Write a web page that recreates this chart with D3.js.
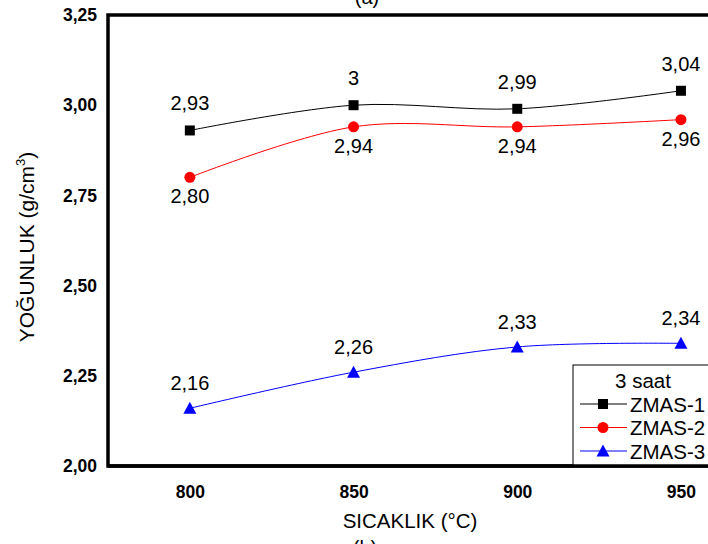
<!DOCTYPE html>
<html><head><meta charset="utf-8">
<script src="https://cdn.jsdelivr.net/npm/d3@7"></script>
<style>body{margin:0;background:#fff}svg{display:block;font-family:"Liberation Sans",Arial,sans-serif}</style>
</head><body><svg id="c" width="708" height="544"></svg>
<script>
const categories = [800, 850, 900, 950];
const zmas1 = [2.93, 3.00, 2.99, 3.04];
const zmas2 = [2.80, 2.94, 2.94, 2.96];
const zmas3 = [2.16, 2.26, 2.33, 2.34];
const labels1 = ["2,93", "3", "2,99", "3,04"];
const labels2 = ["2,80", "2,94", "2,94", "2,96"];
const labels3 = ["2,16", "2,26", "2,33", "2,34"];
const yTicks = [2.00, 2.25, 2.50, 2.75, 3.00, 3.25];
const seriesNames = ["ZMAS-1", "ZMAS-2", "ZMAS-3"];

const svg = d3.select("#c");
const L = 108, T = 15, B = 466;
const x = d3.scaleLinear().domain([775, 975]).range([L, L + 4 * 163.7]);
const y = d3.scaleLinear().domain([2.0, 3.25]).range([B, T]);

// (a) and (b) partial captions
svg.append("text").attr("x", 367).attr("y", 4).attr("text-anchor", "middle").attr("font-size", 20).text("(a)");
svg.append("text").attr("x", 365).attr("y", 555).attr("text-anchor", "middle").attr("font-size", 20).text("(b)");

// frame
svg.append("rect").attr("x", L).attr("y", T).attr("width", x(975) - L).attr("height", B - T)
  .attr("fill", "none").attr("stroke", "#000").attr("stroke-width", 3.5);

// y axis tick labels
const yAxis = d3.axisLeft(y).tickValues(yTicks).tickSize(0).tickPadding(11)
  .tickFormat(d => d3.format(".2f")(d).replace(".", ","));
const ga = svg.append("g").attr("transform", `translate(${L},0)`).call(yAxis);
ga.select(".domain").remove();
ga.selectAll("text").attr("font-size", 17.5).attr("font-weight", "bold").attr("fill", "#000")
  .attr("font-family", '"Liberation Sans",Arial,sans-serif');

const xAxis = d3.axisBottom(x).tickValues(categories).tickSize(0).tickPadding(20).tickFormat(d => d);
const gx = svg.append("g").attr("transform", `translate(0,${B})`).call(xAxis);
gx.select(".domain").remove();
gx.selectAll("text").attr("font-size", 17.5).attr("font-weight", "bold").attr("fill", "#000")
  .attr("font-family", '"Liberation Sans",Arial,sans-serif');

// axis titles
svg.append("text").attr("x", 410).attr("y", 528).attr("text-anchor", "middle").attr("font-size", 20.5)
  .text("SICAKLIK (°C)");
const yt = svg.append("text").attr("transform", "translate(34,247) rotate(-90)").attr("text-anchor", "middle").attr("font-size", 21);
yt.append("tspan").text("YOĞUNLUK (g/cm");
yt.append("tspan").attr("font-size", 13).attr("dy", -9).text("3");
yt.append("tspan").attr("dy", 9).text(")");

const line = d3.line().x((d, i) => x(categories[i])).y(d => y(d)).curve(d3.curveCatmullRom.alpha(0.5));
const series = [
  {v: zmas1, lab: labels1, color: "#000", marker: "square", off: -20},
  {v: zmas2, lab: labels2, color: "#ff0000", marker: "circle", off: 26},
  {v: zmas3, lab: labels3, color: "#0000ff", marker: "triangle", off: -18}
];
function marker(g, type, color, cx, cy) {
  if (type === "square") g.append("rect").attr("x", cx - 5).attr("y", cy - 5).attr("width", 10).attr("height", 10).attr("fill", color);
  else if (type === "circle") g.append("circle").attr("cx", cx).attr("cy", cy).attr("r", 5.5).attr("fill", color);
  else g.append("path").attr("d", `M${cx},${cy - 6.5}L${cx + 6.5},${cy + 5.5}L${cx - 6.5},${cy + 5.5}Z`).attr("fill", color);
}
series.forEach(s => {
  svg.append("path").attr("d", line(s.v)).attr("fill", "none").attr("stroke", s.color).attr("stroke-width", 1);
  s.v.forEach((d, i) => {
    marker(svg, s.marker, s.color, x(categories[i]), y(d));
    svg.append("text").attr("x", x(categories[i])).attr("y", y(d) + s.off)
      .attr("text-anchor", "middle").attr("font-size", 20).text(s.lab[i]);
  });
});

// legend
const lg = svg.append("g");
lg.append("rect").attr("x", 573).attr("y", 365).attr("width", 160).attr("height", B - 365)
  .attr("fill", "#fff").attr("stroke", "#000").attr("stroke-width", 1);
lg.append("text").attr("x", 643).attr("y", 388).attr("text-anchor", "middle").attr("font-size", 20.5).text("3 saat");
series.forEach((s, i) => {
  const yy = 404 + i * 23.5;
  lg.append("line").attr("x1", 580).attr("x2", 627).attr("y1", yy).attr("y2", yy).attr("stroke", s.color).attr("stroke-width", 1);
  marker(lg, s.marker, s.color, 603, yy);
  lg.append("text").attr("x", 630).attr("y", yy + 7.5).attr("font-size", 20.5).text(seriesNames[i]);
});
// bottom axis line over legend
svg.append("line").attr("x1", L).attr("x2", 708).attr("y1", B).attr("y2", B).attr("stroke", "#000").attr("stroke-width", 3.5);
</script></body></html>
